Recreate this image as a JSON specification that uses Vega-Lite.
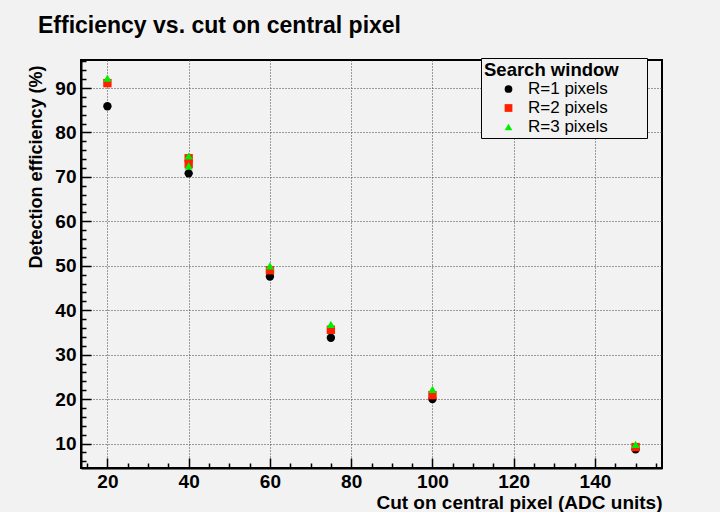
{
  "$schema": "https://vega.github.io/schema/vega-lite/v6.json",
  "width": 581,
  "height": 408,
  "autosize": {"type": "none"},
  "padding": {"left": 81, "top": 60, "right": 58, "bottom": 44},
  "background": "#f2f2f2",
  "config": {
    "font": "Liberation Sans",
    "view": {"stroke": "black", "strokeWidth": 2, "fill": "#f2f2f2"}
  },
  "title": {
    "text": "Efficiency vs. cut on central pixel",
    "anchor": "start",
    "frame": "group",
    "dx": -43,
    "offset": 20,
    "fontSize": 23,
    "fontWeight": "bold",
    "color": "black"
  },
  "data": {
    "values": [
      {"cut": 20, "eff": 85.9, "series": "R=1 pixels"},
      {"cut": 40, "eff": 70.8, "series": "R=1 pixels"},
      {"cut": 60, "eff": 47.6, "series": "R=1 pixels"},
      {"cut": 75, "eff": 33.8, "series": "R=1 pixels"},
      {"cut": 100, "eff": 20.0, "series": "R=1 pixels"},
      {"cut": 150, "eff": 8.7, "series": "R=1 pixels"},
      {"cut": 20, "eff": 91.1, "series": "R=2 pixels"},
      {"cut": 40, "eff": 72.9, "series": "R=2 pixels"},
      {"cut": 40, "eff": 74.2, "series": "R=2 pixels"},
      {"cut": 60, "eff": 49.0, "series": "R=2 pixels"},
      {"cut": 75, "eff": 35.6, "series": "R=2 pixels"},
      {"cut": 100, "eff": 20.9, "series": "R=2 pixels"},
      {"cut": 150, "eff": 9.2, "series": "R=2 pixels"},
      {"cut": 20, "eff": 92.2, "series": "R=3 pixels"},
      {"cut": 40, "eff": 72.5, "series": "R=3 pixels"},
      {"cut": 40, "eff": 74.7, "series": "R=3 pixels"},
      {"cut": 60, "eff": 50.0, "series": "R=3 pixels"},
      {"cut": 75, "eff": 36.8, "series": "R=3 pixels"},
      {"cut": 100, "eff": 22.2, "series": "R=3 pixels"},
      {"cut": 150, "eff": 9.8, "series": "R=3 pixels"}
    ]
  },
  "resolve": {"axis": {"x": "independent", "y": "independent"}},
  "layer": [
    {
      "mark": {"type": "point", "filled": true, "size": 70, "opacity": 1},
      "encoding": {
        "x": {
          "field": "cut", "type": "quantitative",
          "scale": {"domain": [13.5, 156.5], "nice": false, "zero": false},
          "axis": {
            "orient": "bottom",
            "values": [20, 40, 60, 80, 100, 120, 140],
            "title": "Cut on central pixel (ADC units)",
            "titleAnchor": "end", "titleAlign": "right",
            "titleFontSize": 19, "titleFontWeight": "bold", "titleColor": "black",
            "titlePadding": 2,
            "labelFontSize": 19, "labelFontWeight": "bold", "labelColor": "black",
            "labelPadding": 4,
            "ticks": false,
            "domainColor": "black", "domainWidth": 2,
            "grid": true, "gridColor": "#444", "gridDash": [1, 2], "gridWidth": 1
          }
        },
        "y": {
          "field": "eff", "type": "quantitative",
          "scale": {"domain": [4.5, 96.3], "nice": false, "zero": false},
          "axis": {
            "orient": "left",
            "values": [10, 20, 30, 40, 50, 60, 70, 80, 90],
            "title": "Detection efficiency (%)",
            "titleAlign": "right",
            "titleAngle": -90,
            "titleX": -45,
            "titleY": 5,
            "titleBaseline": "middle",
            "titleFontSize": 18, "titleFontWeight": "bold", "titleColor": "black",
            "labelFontSize": 19, "labelFontWeight": "bold", "labelColor": "black",
            "labelPadding": 5,
            "ticks": false,
            "domainColor": "black", "domainWidth": 2,
            "grid": true, "gridColor": "#444", "gridDash": [1, 2], "gridWidth": 1
          }
        },
        "color": {
          "field": "series", "type": "nominal",
          "scale": {"domain": ["R=1 pixels", "R=2 pixels", "R=3 pixels"], "range": ["black", "#ff2000", "#00ee00"]},
          "legend": {
            "title": "Search window",
            "orient": "none",
            "legendX": 400,
            "legendY": -2,
            "fillColor": "#f2f2f2",
            "strokeColor": "black",
            "padding": 3,
            "titleFontSize": 18.5, "titleFontWeight": "bold", "titleColor": "black",
            "titlePadding": 1,
            "labelFontSize": 17, "labelColor": "black",
            "labelExpr": "datum.label + '\u2800\u2800\u2800'",
            "labelOffset": 11,
            "symbolOffset": 16,
            "rowPadding": 1,
            "symbolSize": 60
          }
        },
        "shape": {
          "field": "series", "type": "nominal",
          "scale": {"domain": ["R=1 pixels", "R=2 pixels", "R=3 pixels"], "range": ["circle", "square", "triangle-up"]},
          "legend": null
        }
      }
    },
    {
      "mark": {"type": "point", "opacity": 0},
      "encoding": {
        "x": {
          "field": "cut", "type": "quantitative",
          "axis": {
            "orient": "bottom",
            "values": [20, 40, 60, 80, 100, 120, 140],
            "labels": false, "title": null, "domain": false, "grid": false,
            "tickSize": -10, "tickColor": "black", "tickWidth": 1.5
          }
        },
        "y": {
          "field": "eff", "type": "quantitative",
          "axis": {
            "orient": "left",
            "values": [10, 20, 30, 40, 50, 60, 70, 80, 90],
            "labels": false, "title": null, "domain": false, "grid": false,
            "tickSize": -10, "tickColor": "black", "tickWidth": 1.5
          }
        }
      }
    },
    {
      "mark": {"type": "point", "opacity": 0},
      "encoding": {
        "x": {
          "field": "cut", "type": "quantitative",
          "axis": {
            "orient": "bottom",
            "values": [15, 25, 30, 35, 45, 50, 55, 65, 70, 75, 85, 90, 95, 105, 110, 115, 125, 130, 135, 145, 150, 155],
            "labels": false, "title": null, "domain": false, "grid": false,
            "tickSize": -5, "tickColor": "black", "tickWidth": 1.5
          }
        },
        "y": {
          "field": "eff", "type": "quantitative",
          "axis": {
            "orient": "left",
            "values": [6, 8, 12, 14, 16, 18, 22, 24, 26, 28, 32, 34, 36, 38, 42, 44, 46, 48, 52, 54, 56, 58, 62, 64, 66, 68, 72, 74, 76, 78, 82, 84, 86, 88, 92, 94, 96],
            "labels": false, "title": null, "domain": false, "grid": false,
            "tickSize": -5, "tickColor": "black", "tickWidth": 1.5
          }
        }
      }
    }
  ]
}
